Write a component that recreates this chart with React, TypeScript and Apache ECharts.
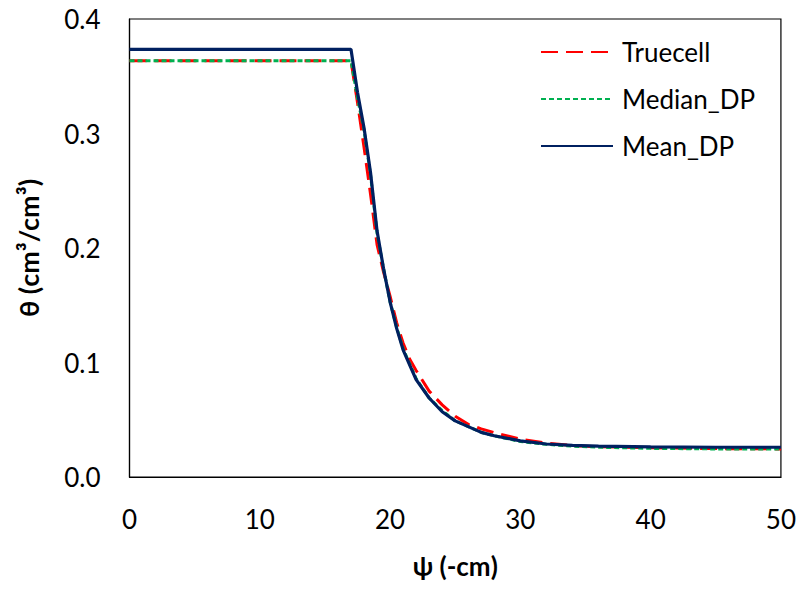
import React, { useEffect, useRef } from "react";
import * as echarts from "echarts";

const psi = [0, 17, 17.5, 18, 18.5, 19, 19.5, 20, 20.5, 21, 21.5, 22, 23, 24, 25, 26, 27, 28, 30, 32, 34, 36, 40, 45, 50];
const truecell = [0.3636, 0.3636, 0.327, 0.288, 0.247, 0.203, 0.179, 0.158, 0.135, 0.117, 0.103, 0.093, 0.075, 0.063, 0.053, 0.046, 0.042, 0.0387, 0.033, 0.0295, 0.0275, 0.0265, 0.0255, 0.0248, 0.0245];
const medianDP = [0.3636, 0.3636, 0.331, 0.303, 0.264, 0.213, 0.182, 0.153, 0.131, 0.112, 0.099, 0.086, 0.069, 0.058, 0.049, 0.044, 0.039, 0.036, 0.031, 0.0285, 0.027, 0.026, 0.025, 0.0245, 0.0245];
const meanDP = [0.3735, 0.3735, 0.336, 0.305, 0.266, 0.215, 0.182, 0.153, 0.130, 0.111, 0.098, 0.085, 0.069, 0.057, 0.049, 0.044, 0.039, 0.036, 0.0315, 0.0288, 0.0276, 0.027, 0.0263, 0.026, 0.026];
const seriesNames = ["Truecell", "Median_DP", "Mean_DP"];
const xTicks = [0, 10, 20, 30, 40, 50];
const yTicks = [0, 0.1, 0.2, 0.3, 0.4];

const FONT = "Lato, 'Open Sans', sans-serif";

export default function App() {
  const ref = useRef<HTMLDivElement>(null);
  useEffect(() => {
    if (!ref.current) return;
    const chart = echarts.init(ref.current, null, { renderer: "svg" });
    const pair = (ys: number[]) => psi.map((x, i) => [x, ys[i]]);
    chart.setOption({
      animation: false,
      backgroundColor: "#ffffff",
      textStyle: { fontFamily: FONT },
      grid: {
        left: 129.5,
        right: 17.3,
        top: 19,
        bottom: 112,
        show: true,
        borderColor: "#000000",
        borderWidth: 1.2,
        containLabel: false,
      },
      legend: {
        orient: "vertical",
        left: 535,
        top: 34,
        itemWidth: 72,
        itemHeight: 14,
        itemGap: 21,
        data: seriesNames,
        itemStyle: { opacity: 0 },
        textStyle: { fontSize: 26, color: "#000000", fontFamily: FONT, padding: [0, 0, 0, 4] },
      },
      xAxis: {
        type: "value",
        min: xTicks[0],
        max: xTicks[xTicks.length - 1],
        interval: 10,
        name: "ψ (-cm)",
        nameLocation: "middle",
        nameGap: 76,
        nameTextStyle: { fontSize: 26, fontWeight: "bold", color: "#000", fontFamily: FONT },
        axisLine: { show: true, lineStyle: { color: "#000", width: 1.2 } },
        axisTick: { show: false },
        splitLine: { show: false },
        axisLabel: { fontSize: 26, color: "#000", margin: 29, fontFamily: FONT },
      },
      yAxis: {
        type: "value",
        min: yTicks[0],
        max: yTicks[yTicks.length - 1],
        interval: 0.1,
        name: "θ (cm³/cm³)",
        nameLocation: "middle",
        nameRotate: 90,
        nameGap: 88,
        nameTextStyle: { fontSize: 27, fontWeight: "bold", color: "#000", fontFamily: FONT },
        axisLine: { show: true, lineStyle: { color: "#000", width: 1.2 } },
        axisTick: { show: false },
        splitLine: { show: false },
        axisLabel: {
          fontSize: 26,
          color: "#000",
          margin: 29,
          fontFamily: FONT,
          formatter: (v: number) => v.toFixed(1),
        },
      },
      series: [
        {
          name: seriesNames[0],
          type: "line",
          data: pair(truecell),
          symbol: "none",
          lineStyle: { color: "#FF0000", width: 3, type: [17, 8] },
          itemStyle: { color: "#FF0000" },
        },
        {
          name: seriesNames[1],
          type: "line",
          data: pair(medianDP),
          symbol: "none",
          lineStyle: { color: "#00B050", width: 3, type: [5, 3] },
          itemStyle: { color: "#00B050" },
        },
        {
          name: seriesNames[2],
          type: "line",
          data: pair(meanDP),
          symbol: "none",
          lineStyle: { color: "#002060", width: 3.2, type: "solid" },
          itemStyle: { color: "#002060" },
        },
      ],
    });
    return () => chart.dispose();
  }, []);
  return (
    <div
      ref={ref}
      style={{ position: "absolute", left: 0, top: 0, width: 799, height: 589 }}
    />
  );
}
